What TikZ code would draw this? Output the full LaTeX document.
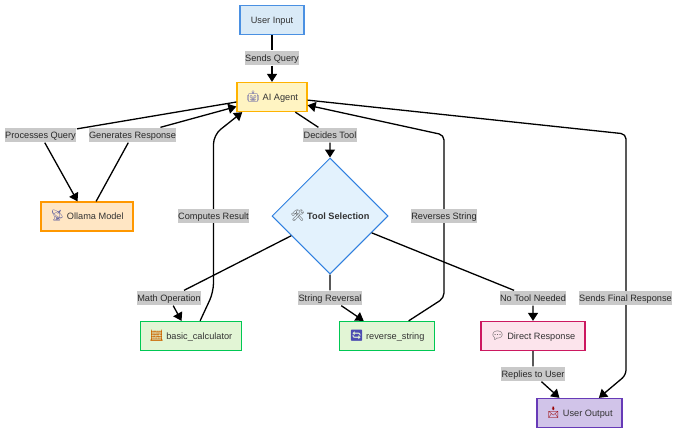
\documentclass[tikz,border=0pt]{standalone}
\usepackage{xcolor}
\usepackage{fontspec}
\setmainfont{Liberation Sans}
\newfontfamily\emojifont{Noto Emoji}[Scale=1.2]
\usetikzlibrary{arrows.meta,shapes,positioning,calc,shadows}

\newcommand{\emo}[2]{{\emojifont\textbf{\textcolor{#1}{#2}}}}

\definecolor{inkcol}{HTML}{333333}
\definecolor{lblcol}{HTML}{C9C9C9}

\begin{document}
\begin{tikzpicture}[x=1pt,y=-1pt,line width=1.3pt,>={Stealth[inset=0pt,length=8pt,width=10pt]},font=\fontsize{9.2}{11}\selectfont,text=inkcol]
	\tikzstyle{every node}=[text height=6.6pt,text depth=0pt]
	\tikzstyle{box}=[draw,rectangle,line width=1.3pt,minimum height=29pt,inner sep=0pt,drop shadow={opacity=.1,shadow xshift=.6pt,shadow yshift=-.6pt}]
	\tikzstyle{lbl}=[fill=lblcol,inner xsep=.5pt,inner ysep=0pt,minimum height=14pt,text=inkcol!80!black]
	\tikzstyle{toolbox}=[box,draw={rgb,255:red,0;green,200;blue,83},fill={rgb,255:red,226;green,245;blue,213},minimum width=101pt]
	\useasboundingbox (0,0) rectangle (679,434);
	
	\node[box,draw={rgb,255:red,74;green,144;blue,226},fill={rgb,255:red,217;green,234;blue,247},minimum width=64pt](input) at (272,20){User Input};
	\node[box,draw={rgb,255:red,255;green,179;blue,0},fill={rgb,255:red,255;green,244;blue,194},minimum width=70pt](agent)[below of=input,node distance=77pt]{\emo{blue!30!gray}{🤖} AI Agent};
	\node[box,draw={rgb,255:red,255;green,152;blue,0},fill={rgb,255:red,255;green,230;blue,196},minimum width=92pt](ollama) at (87,216.5){\emo{blue!25!gray}{📡} Ollama Model};
	\node[diamond,aspect=1,draw={rgb,255:red,47;green,128;blue,224},fill={rgb,255:red,227;green,242;blue,253},line width=1pt,minimum size=116pt,inner sep=0pt,drop shadow={opacity=.1,shadow xshift=.6pt,shadow yshift=-.6pt}](tool) at (330,216){\emo{black!70}{🛠} \textbf{Tool Selection}};
	\node[toolbox](calc) at (191,336){\emo{orange!80!black}{🧮} basic\_calculator};
	\node[toolbox,minimum width=95pt](reverse) at (387,336){\emo{blue!40!gray}{🔄} reverse\_string};
	\node[box,draw={rgb,255:red,204;green,24;blue,96},fill={rgb,255:red,252;green,228;blue,236},minimum width=104pt](direct) at (533,336){\emo{black!70}{💬} Direct Response};
	\node[box,draw={rgb,255:red,103;green,58;blue,183},fill={rgb,255:red,209;green,196;blue,233},minimum width=85pt](output) at (579.5,413){\emo{red!60!black}{📩} User Output};
	
	% bends of the long edges
	\coordinate (calcbend) at (213.5,292);
	\coordinate (compbend) at (213.5,135);
	\coordinate (revbend) at (444,298);
	\coordinate (strbend) at (444,135);
	\coordinate (finalbend) at (626,134);
	\coordinate (outbend) at (626,375);
	
	\draw[->,rounded corners=9pt] (calc.59) -- (calcbend) -- (compbend) -- (agent.207);
	\draw[->,rounded corners=5pt] (reverse.35) -- (revbend) -- (strbend) -- (agent.347);
	\draw[->,rounded corners=5pt] (agent.355) -- (finalbend) -- (outbend) -- (output.38);
	
	\node[lbl](lblquery)[below of=input,node distance=38pt]{Sends Query};
	\node[lbl](lblproc) at (40.5,135){Processes Query};
	\node[lbl](lblgen) at (132.5,135){Generates Response};
	\node[lbl](lbldecide)[above of=tool,node distance=81pt]{Decides Tool};
	\node[lbl](lblcomp) at (213.5,216){Computes Result};
	\node[lbl](lblrev) at (444,216){Reverses String};
	\node[lbl](lblmath) at (169,298){Math Operation};
	\node[lbl](lblstr)[below of=tool,node distance=82pt]{String Reversal};
	\node[lbl](lblnone)[above of=direct,node distance=38pt]{No Tool Needed};
	\node[lbl](lblfinal) at (625.5,298){Sends Final Response};
	\node[lbl](lblreply)[below of=direct,node distance=38pt]{Replies to User};
	
	\draw[->] (input) -- (lblquery) -- (agent);
	\draw[->] (agent.188) -- (lblproc) -- (ollama.122);
	\draw[->] (ollama.59) -- (lblgen) -- (agent.195);
	\draw[->] (agent.327) -- (lbldecide) -- (tool);
	\draw[->] (tool) -- (lblmath) -- (calc.122);
	\draw[->] (tool) -- (lblstr) -- (reverse.147);
	\draw[->] (tool) -- (lblnone) -- (direct);
	\draw[->] (direct) -- (lblreply) -- (output.143);
\end{tikzpicture}
\end{document}
